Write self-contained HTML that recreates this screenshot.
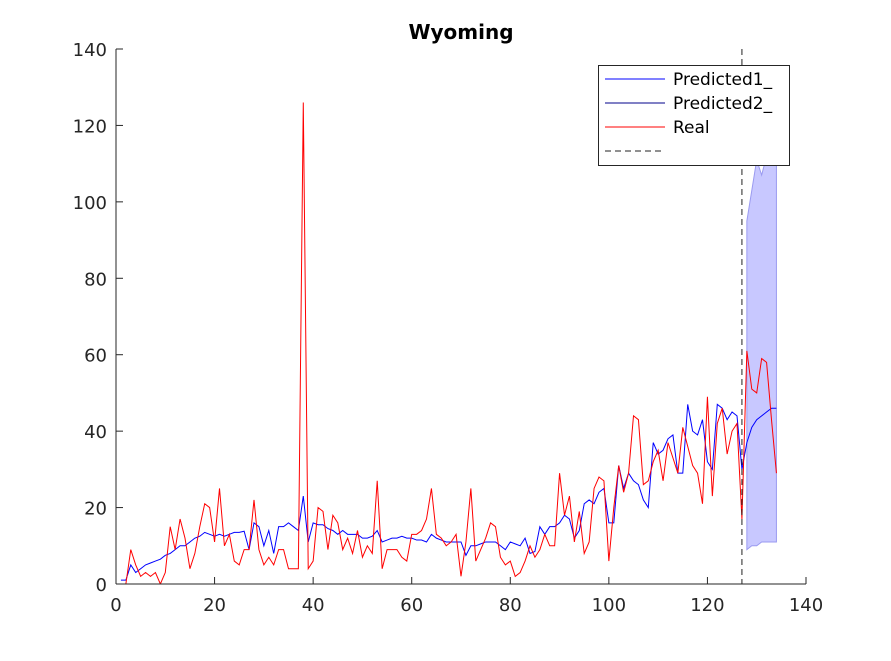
<!DOCTYPE html>
<html><head><meta charset="utf-8"><style>
body{margin:0;background:#fff;}
svg text{font-family:"DejaVu Sans","Liberation Sans",sans-serif;}
</style></head><body>
<svg id="chart" width="891" height="656" xmlns="http://www.w3.org/2000/svg">
<rect width="891" height="656" fill="#fff"/>
<g id="plot"></g>
</svg>
<script>
const xTicks=[0,20,40,60,80,100,120,140];
const yTicks=[0,20,40,60,80,100,120,140];
const realY=[0,0,9,5,2,3,2,3,0,3,15,9,17,12,4,8,15,21,20,11,25,10,13,6,5,9,9,22,9,5,7,5,9,9,4,4,4,126,4,6,20,19,9,18,16,9,12,8,14,7,10,8,27,4,9,9,9,7,6,13,13,14,17,25,13,12,10,11,13,2,11,25,6,9,12,16,15,7,5,6,2,3,6,10,7,9,13,10,10,29,18,23,11,19,8,11,25,28,27,6,20,31,24,29,44,43,26,27,32,35,27,37,33,29,41,36,31,29,21,49,23,42,46,34,40,42,17,61,51,50,59,58,43,29];
const pred1Y=[1,1,5,3,4,5,5.5,6,6.5,7.5,8,9,10,10,11,12,12.5,13.5,13,12.5,13,12.5,13,13.5,13.5,13.8,9,16,15,10,14,8,15,15,16,15,14,23,11,16,15.5,15.5,14.5,14,13,14,13,13,13,12,12,12.5,14,11,11.5,12,12,12.5,12,12,11.5,11.5,11,13,12,11.5,11,11,11,11,7.5,10,10,10.5,11,11,11,10,9,11,10.5,10,12,8,8.5,15,13,15,15,16,18,17,12,14,21,22,21,24,25,16,16,31,25,29,27,26,22,20,37,34,35,38,39,29,29,47,40,39,43,32,30,47,46,43,45,44,30];
const pred2Y=[30,37,41,43,44,45,46,46];
const bandUpper=[95,103,111,107,112,114,116];
const bandLower=[9,10,10,11,11,11,11];
const forecastStart=127;
const X0=116,X1=806,Y0=584,Y1=49;
const sx=v=>X0+(v-0)/(140-0)*(X1-X0);
const sy=v=>Y0-(v-0)/(140-0)*(Y0-Y1);
const NS="http://www.w3.org/2000/svg";
const g=document.getElementById('plot');
function mk(t,a,p){const e=document.createElementNS(NS,t);for(const k in a)e.setAttribute(k,a[k]);(p||g).appendChild(e);return e;}
const defs=mk('defs',{});const cp=mk('clipPath',{id:'clip'},defs);mk('rect',{x:X0,y:Y1,width:X1-X0,height:Y0-Y1},cp);
let bp=bandUpper.map((v,i)=>sx(forecastStart+1+i)+','+sy(v)).concat(bandLower.map((v,i)=>sx(forecastStart+1+i)+','+sy(v)).reverse());
const band=mk('polygon',{points:bp.join(' '),fill:'#c8c8ff',stroke:'#9a9af0','stroke-width':1,'clip-path':'url(#clip)'});


function line(arr,start,color,name){const pts=arr.map((v,i)=>sx(start+i)+','+sy(v)).join(' ');const e=mk('polyline',{points:pts,fill:'none',stroke:color,'stroke-width':1,'clip-path':'url(#clip)'});

}
line(pred1Y,1,'#0000ff','predicted1-line');
line(pred2Y,forecastStart,'#0000ff','predicted2-line');
line(realY,1,'#ff0000','real-line');
const vl=mk('line',{x1:sx(forecastStart),x2:sx(forecastStart),y1:Y1,y2:Y0,stroke:'#222','stroke-dasharray':'6,4','stroke-width':1});


mk('line',{x1:X0,x2:X1,y1:Y0,y2:Y0,stroke:'#262626'});
mk('line',{x1:X0,x2:X0,y1:Y1,y2:Y0,stroke:'#262626'});
xTicks.forEach(t=>{mk('line',{x1:sx(t),x2:sx(t),y1:Y0,y2:Y0-7,stroke:'#262626'});const e=mk('text',{x:sx(t),y:Y0+27,'text-anchor':'middle','font-size':18,fill:'#262626'});e.textContent=t;

});
yTicks.forEach(t=>{mk('line',{x1:X0,x2:X0+7,y1:sy(t),y2:sy(t),stroke:'#262626'});const e=mk('text',{x:X0-9,y:sy(t)+7,'text-anchor':'end','font-size':18,fill:'#262626'});e.textContent=t;

});
const title=mk('text',{x:461,y:39,'text-anchor':'middle','font-size':20,'font-weight':'bold',fill:'#000'});title.textContent='Wyoming';


const lg=mk('g',{});


mk('rect',{x:598.5,y:65.5,width:191,height:100,fill:'#fff',stroke:'#262626'},lg);
const items=[['Predicted1_','#0000ff',''],['Predicted2_','#00008b',''],['Real','#ff0000',''],['','#222','6,4']];
items.forEach((it,i)=>{const y=79+i*24;mk('line',{x1:605,x2:665,y1:y,y2:y,stroke:it[1],'stroke-dasharray':it[2]},lg);
const t=mk('text',{x:673,y:y+6,'font-size':17,fill:'#000'},lg);t.textContent=it[0];

});
</script>
</body></html>
